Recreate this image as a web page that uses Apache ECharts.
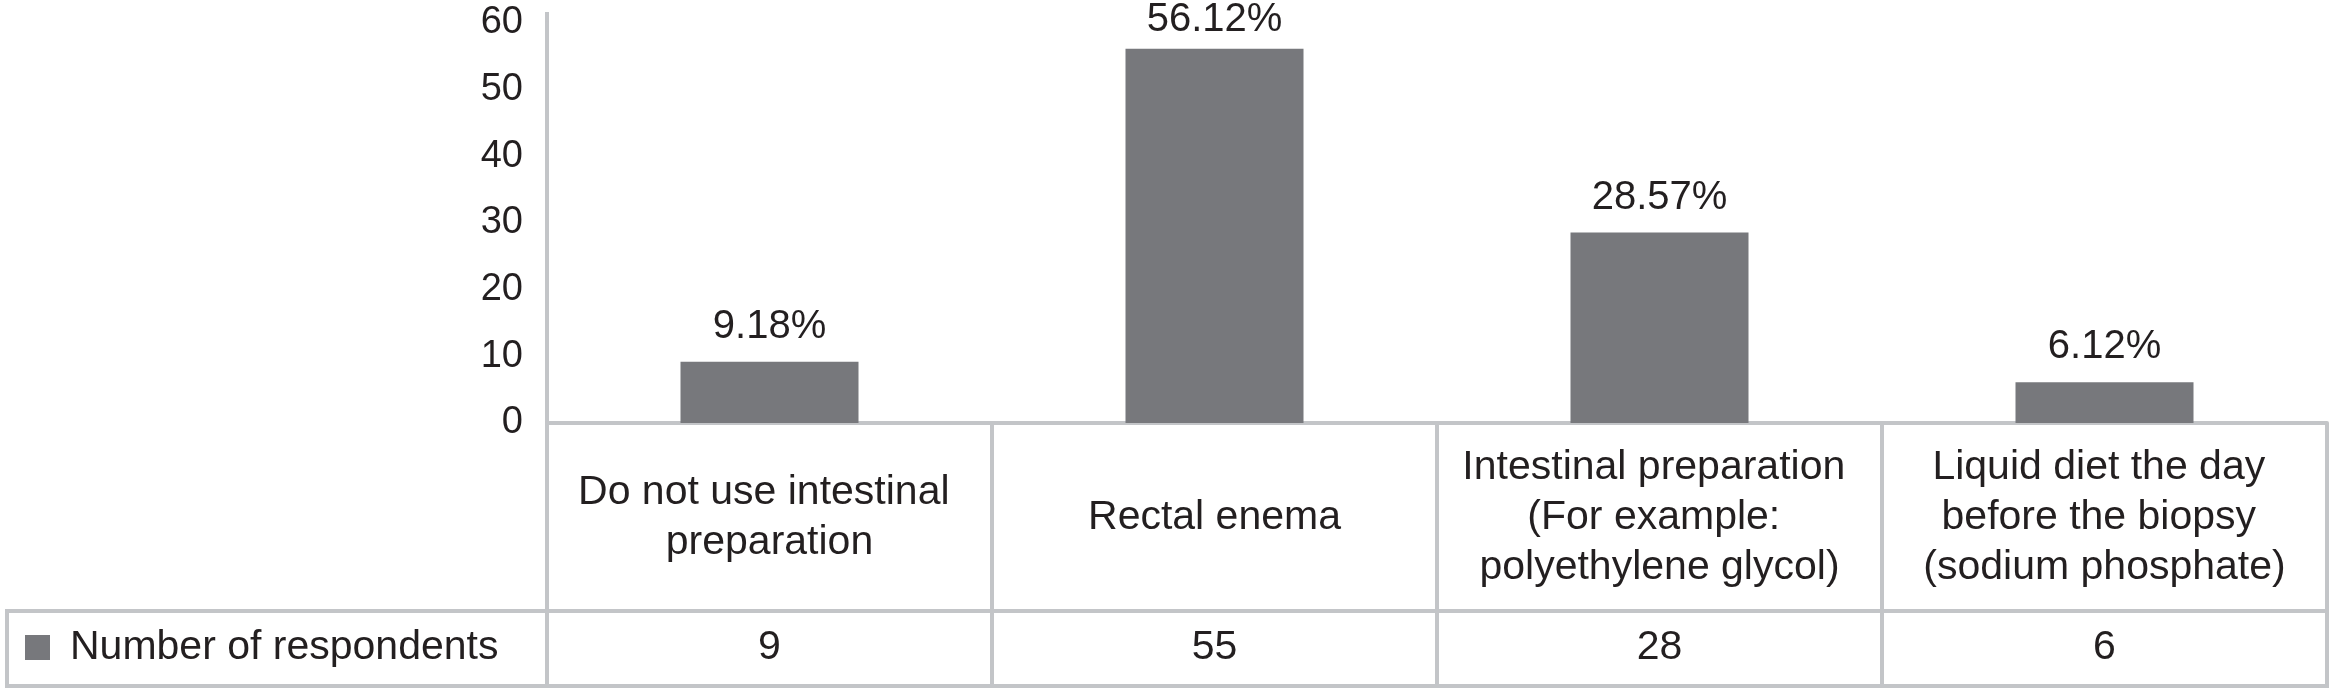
<!DOCTYPE html>
<html>
<head>
<meta charset="utf-8">
<title>Intestinal preparation</title>
<script src="https://cdn.jsdelivr.net/npm/echarts@6/dist/echarts.min.js"></script>
<style>
  html, body { margin: 0; padding: 0; background: #fff; }
  #chart { width: 2333px; height: 692px; }
</style>
</head>
<body>
<div id="chart"></div>
<script>
// categories shown in the table under the bars
const categories = [
    'Do not use intestinal preparation',
    'Rectal enema',
    'Intestinal preparation (For example: polyethylene glycol)',
    'Liquid diet the day before the biopsy (sodium phosphate)'
]
// bar heights are the percentages, the table row shows the counts
const percents = [9.18, 56.12, 28.57, 6.12]
const counts = [9, 55, 28, 6]
const seriesName = 'Number of respondents'
const yTicks = { min: 0, max: 60, interval: 10 }

const fontFamily = "'Liberation Sans', Arial, sans-serif"
const textColor = '#231f20'
const barColor = '#77787c'
const lineColor = '#c3c5c8'

// layout of the table (px)
const plotTop = 23
const plotBottom = 423
const catRowBottom = 611
const tableBottom = 686
const tableLeft = 7
const plotLeft = 547
const plotRight = 2327

const myChart = echarts.init(document.getElementById('chart'))

const option = {
    animation: false,
    backgroundColor: '#fff',
    textStyle: { fontFamily: fontFamily },
    grid: {
        left: plotLeft,
        right: 2333 - plotRight,
        top: plotTop,
        bottom: 692 - plotBottom,
        containLabel: false
    },
    legend: {
        data: [seriesName],
        left: 25,
        top: 627,
        padding: 0,
        icon: 'rect',
        itemWidth: 25,
        itemHeight: 25,
        textStyle: {
            fontSize: 41,
            color: textColor,
            fontFamily: fontFamily,
            padding: [0, 0, 0, 15]
        }
    },
    xAxis: [
        {
            type: 'category',
            data: categories,
            axisLine: { show: true, lineStyle: { color: lineColor, width: 4 } },
            axisTick: {
                show: true,
                interval: 0,
                length: tableBottom - plotBottom,
                lineStyle: { color: lineColor, width: 4 }
            },
            axisLabel: {
                interval: 0,
                fontSize: 41,
                lineHeight: 50,
                color: textColor,
                fontFamily: fontFamily,
                width: 420,
                overflow: 'break',
                verticalAlign: 'middle',
                margin: 95
            }
        },
        {
            // the counts row of the table
            type: 'category',
            data: categories,
            position: 'bottom',
            offset: 225,
            axisLine: { show: false },
            axisTick: { show: false },
            axisLabel: {
                interval: 0,
                fontSize: 41,
                color: textColor,
                fontFamily: fontFamily,
                verticalAlign: 'middle',
                margin: 0,
                formatter: (val, idx) => String(counts[idx])
            }
        }
    ],
    yAxis: {
        type: 'value',
        min: yTicks.min,
        max: yTicks.max,
        interval: yTicks.interval,
        axisLine: { show: true, lineStyle: { color: lineColor, width: 4 } },
        axisTick: { show: false },
        splitLine: { show: false },
        axisLabel: {
            fontSize: 38,
            color: textColor,
            fontFamily: fontFamily,
            margin: 24
        }
    },
    graphic: [
        {
            // y axis line runs a little above the top tick
            type: 'line',
            silent: true,
            shape: { x1: plotLeft, y1: 12, x2: plotLeft, y2: plotTop },
            style: { stroke: lineColor, lineWidth: 4 }
        },
        {
            // legend cell + counts row box
            type: 'rect',
            silent: true,
            z: 1,
            shape: {
                x: tableLeft,
                y: catRowBottom,
                width: plotRight - tableLeft,
                height: tableBottom - catRowBottom
            },
            style: { fill: 'none', stroke: lineColor, lineWidth: 4 }
        }
    ],
    series: [
        {
            name: seriesName,
            type: 'bar',
            data: percents,
            barWidth: '40%',
            itemStyle: { color: barColor },
            label: {
                show: true,
                position: 'top',
                distance: 15,
                fontSize: 40,
                color: textColor,
                fontFamily: fontFamily,
                formatter: p => p.value.toFixed(2) + '%'
            },
            // keep the tallest label inside the picture
            labelLayout: params => {
                const r = params.labelRect
                if (r.y < 0) {
                    return { x: r.x, y: 0, align: 'left', verticalAlign: 'top' }
                }
                return {}
            }
        }
    ]
}
myChart.setOption(option)
</script>
</body>
</html>
